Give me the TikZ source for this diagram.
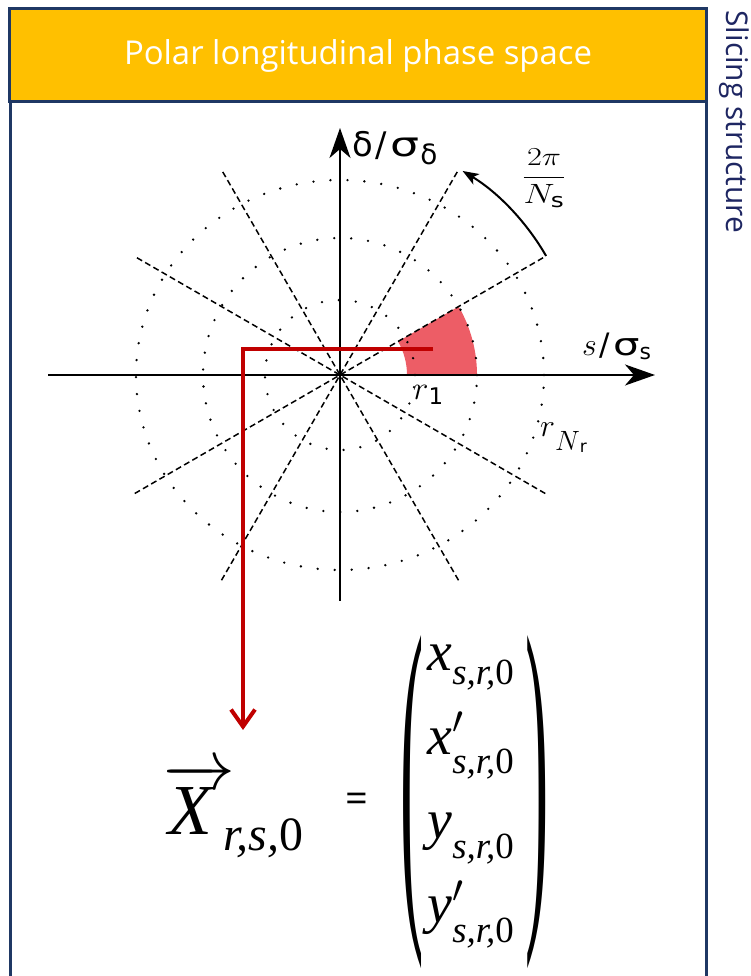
\RequirePackage{fix-cm}
\documentclass[tikz,border=0pt]{standalone}
\usepackage[no-math]{fontspec}
\setmainfont{Open Sans}
\newfontfamily\greekfont{DejaVu Sans}
\newfontfamily\widegreek[FakeStretch=1.35]{DejaVu Sans}
\newfontfamily\timesfont{Liberation Serif}
\usetikzlibrary{arrows.meta}

\definecolor{framenavy}{RGB}{31,56,100}
\definecolor{titlegold}{RGB}{255,192,0}
\definecolor{slicered}{RGB}{192,0,0}
\definecolor{cloudred}{RGB}{232,52,64}
\definecolor{sidenavy}{RGB}{30,38,98}

\newcommand{\fs}[1]{\fontsize{#1}{#1}\selectfont}
\newcommand{\tmi}[1]{\hbox{\timesfont\itshape #1}}
\newcommand{\tsub}[1]{\raisebox{-6bp}{\timesfont\fs{37}\itshape #1}}
\newcommand{\lowsub}[3]{\raisebox{-#1}{\fs{#2}#3}}
\newcommand{\bigparen}[1]{\scalebox{0.19}[1]{\timesfont\fs{369}#1}}

\begin{document}
\begin{tikzpicture}[
  x=1bp, y=1bp,
  framebox/.style={rectangle, draw=framenavy, line width=3bp},
  titlebox/.style={framebox, fill=titlegold, minimum width=696bp, minimum height=93bp, text=white},
  axis/.style={line width=2bp, -{Stealth[length=30bp, width=21bp, inset=9bp]}},
  spoke/.style={line width=1.5bp, dash pattern=on 6bp off 3.5bp},
  dotring/.style={line width=2.6bp, line cap=round, dash pattern=on 0bp off 17bp},
  anglearrow/.style={line width=2bp, -{Stealth[length=16bp, width=12bp, inset=4bp]}},
  slicearrow/.style={slicered, line width=4.5bp, -{Straight Barb[length=17bp, width=24bp, line width=4bp]}},
  lbl/.style={inner sep=0pt}
]
\useasboundingbox (0,0) rectangle (751,976);

% frame and title
\draw[framebox] (10,-6) -- (10,967) -- (706,967) -- (706,-6);
\node (title) [titlebox] at (358,920.5) {\raisebox{-3bp}{\fs{33}Polar longitudinal phase space}};
\node (sidelabel) [rotate=-90, anchor=west, text=sidenavy] at (734,969) {\fs{30}Slicing structure};

% polar phase space
\begin{scope}[shift={(340,601)}]
  \fill[cloudred, opacity=.8] (0:67bp) arc[start angle=0, end angle=30, radius=67bp]
    -- (30:137bp) arc[start angle=30, end angle=0, radius=137bp] -- cycle;
  \draw[dotring] (0,0) circle[radius=75bp];
  \draw[dotring] (0,0) circle[radius=137bp];
  \draw[dotring] (0,0) circle[x radius=204bp, y radius=195bp];
  \foreach \a in {30,60,120,150}
    \draw[spoke] (\a+180:237bp) -- (\a:237bp);
  \coordinate (sLeft) at (-292,0);
  \coordinate (sRight) at (315,0);
  \coordinate (dBottom) at (0,-226);
  \coordinate (dTop) at (0,247);
  \draw[axis] (sLeft) -- (sRight);
  \draw[axis] (dBottom) -- (dTop);
  \coordinate (angStart) at (30:238bp);
  \draw[anglearrow] (angStart) arc[start angle=30, end angle=59, radius=238bp];
\end{scope}

\node (deltaLbl) [lbl, anchor=base west] at (352,819)
  {\greekfont\fs{34}δ\kern3bp/\kern3bp{\widegreek σ}\kern1bp\lowsub{8bp}{28}{δ}};
\node (sLbl) [lbl, anchor=base west] at (582,620)
  {\fs{32}$s$\kern3bp\greekfont\fs{31}/\kern3bp{\widegreek σ}\lowsub{4bp}{22}{s}};
\node (angLbl) [lbl] at (544,798)
  {\scalebox{1.25}[1]{\fs{28}$\displaystyle\frac{\hbox{\fs{26}$2\pi$}}{N_{\hbox{\greekfont\fs{20}s}}}$}};
\node (rOneLbl) [lbl, anchor=base west] at (413,576)
  {\fs{33}$r$\lowsub{5bp}{23}{\greekfont 1}};
\node (rNLbl) [lbl, anchor=base west] at (540,539)
  {\fs{32}$r$\lowsub{14bp}{28}{$N$\lowsub{2bp}{17}{\greekfont r}}};

% slice vector
\node (vecX) [lbl, anchor=base west] at (163,141)
  {\fs{72}$\overrightarrow{\hbox{\timesfont\itshape X\kern.25em}}$};
\node (vecSub) [lbl, anchor=base west] at (223,125)
  {\timesfont\fs{48}\itshape r,s,\upshape0};
\node (equals) [lbl] at (357,173) {\fs{40}=};
\node (lParen) [lbl] at (412,173.5) {\bigparen{(}};
\node (rParen) [lbl] at (537,173.5) {\bigparen{)}};
\node (stateVec) [lbl] at (471,196)
  {\fs{56}\renewcommand{\arraystretch}{1.5}$\begin{array}{@{}l@{}}
    \tmi{x}_{\tsub{s,r,\upshape0}}\\
    \tmi{x}'_{\tsub{s,r,\upshape0}}\\
    \tmi{y}_{\tsub{s,r,\upshape0}}\\
    \tmi{y}'_{\tsub{s,r,\upshape0}}
  \end{array}$};

\coordinate (sliceStart) at (433,627);
\coordinate (sliceEnd) at (243,246);
\draw[slicearrow] (sliceStart) -| (sliceEnd);
\end{tikzpicture}
\end{document}
